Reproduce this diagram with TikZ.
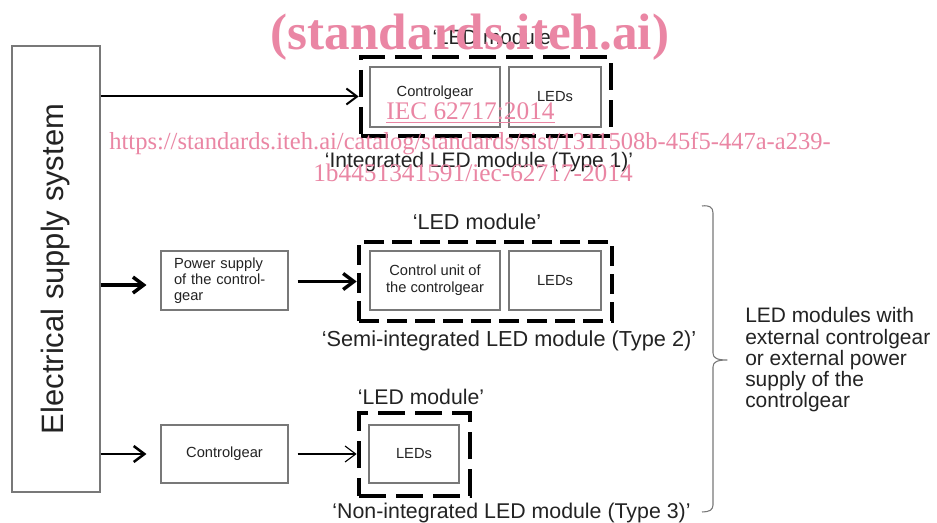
\documentclass[tikz,border=0pt]{standalone}
\usepackage{fontspec}
\setmainfont{Liberation Sans}
\newfontfamily\wmfont{Liberation Serif}
\usetikzlibrary{arrows.meta}
\definecolor{wmpink}{RGB}{234,134,164}
\definecolor{txt}{RGB}{35,35,35}
\definecolor{boxgray}{RGB}{120,120,120}
\begin{document}
\begin{tikzpicture}[x=0.75pt,y=-0.75pt,
  gbox/.style={draw=boxgray, line width=0.8pt, inner sep=0pt, text=txt, font=\fontsize{11}{12.75}\selectfont, align=center},
  dbox/.style={draw=black, line width=3.4pt, inner sep=0pt},
  lbl/.style={anchor=base, inner sep=0pt, text=txt},
  wm/.style={anchor=base, inner sep=0pt, text=wmpink},
  arr/.style={-{Straight Barb[length=8pt,width=12pt]}, draw=black}
]
\useasboundingbox[fill=white] (0,0) rectangle (937,523);

% supply system
\node[draw=boxgray, line width=0.9pt, rotate=90, minimum width=334.5pt, minimum height=66pt, inner sep=0pt, text=txt, font=\fontsize{23.2}{26}\selectfont] (supply) at (56,269) {Electrical supply system};

% Type 1
\node[dbox, minimum width=187.5pt, minimum height=59.25pt, dash pattern=on 20.25pt off 7.5pt] (m1) at (486,96.5) {};
\node[gbox, minimum width=97.5pt, minimum height=45pt, text height=8pt, text depth=8pt] (cg1) at (435,97) {Controlgear};
\node[gbox, minimum width=69pt, minimum height=45pt] (led1) at (555,97) {LEDs};
\node[lbl, font=\fontsize{15.5}{18}\selectfont] (lm1) at (494,45) {‘LED module’};
\node[lbl, font=\fontsize{15.75}{18}\selectfont] (t1) at (479,168) {‘Integrated LED module (Type 1)’};
\draw[arr, line width=1.5pt] (supply.south |- m1.west) -- (m1.west);

% Type 2
\node[dbox, minimum width=189.75pt, minimum height=59.25pt, dash pattern=on 15pt off 6pt] (m2) at (485.5,281.5) {};
\node[gbox, minimum width=95.25pt, minimum height=44.25pt, text width=75.75pt, align=left, font=\fontsize{11}{12}\selectfont] (ps) at (224.5,280.5) {Power supply\\of the control-\\gear};
\node[gbox, minimum width=97.5pt, minimum height=44.25pt] (cu) at (435,280.5) {Control unit of\\the controlgear};
\node[gbox, minimum width=69pt, minimum height=44.25pt] (led2) at (555,280.5) {LEDs};
\node[lbl, font=\fontsize{16.2}{18}\selectfont] (lm2) at (477,230) {‘LED module’};
\node[lbl, font=\fontsize{16.3}{18}\selectfont] (t2) at (509,347) {‘Semi-integrated LED module (Type 2)’};
\coordinate (a2) at ([yshift=-3.4pt]ps.west);
\draw[arr, line width=2.6pt, shorten >=10.5pt] (supply.south |- a2) -- (a2);
\draw[arr, line width=2.6pt, shorten <=6.75pt] (ps.east |- m2.west) -- (m2.west);

% Type 3
\node[dbox, minimum width=83.25pt, minimum height=62.25pt, line width=3.6pt, dash pattern=on 20.25pt off 7.5pt] (m3) at (414.5,454.5) {};
\node[gbox, minimum width=95.25pt, minimum height=43.5pt] (cg3) at (224.5,454) {Controlgear};
\node[gbox, minimum width=67.5pt, minimum height=43.5pt] (led3) at (414,454) {LEDs};
\node[lbl, font=\fontsize{15.9}{18}\selectfont] (lm3) at (421,404) {‘LED module’};
\node[lbl, font=\fontsize{16}{18}\selectfont] (t3) at (511.5,518) {‘Non-integrated LED module (Type 3)’};
\draw[arr, line width=1.9pt, shorten >=10.5pt] (supply.south |- cg3.west) -- (cg3.west);
\draw[arr, line width=0.8pt, shorten <=6.75pt] (cg3.east) -- (m3.west |- cg3.east);

% brace and description
\draw[draw=boxgray, line width=0.8pt, line join=round]
  (702,206) .. controls (709,205) and (713,207) .. (713,213) -- (713,353)
  .. controls (713,358) and (717,360) .. (727,360)
  .. controls (717,360) and (713,362) .. (713,367) -- (713,505)
  .. controls (713,510) and (709,512) .. (702,512);
\node[anchor=west, inner sep=0pt, align=left, text=txt, font=\fontsize{15.7}{15.94}\selectfont] (desc) at (745,360) {LED modules with\\external controlgear\\or external power\\supply of the\\controlgear};

% watermark
\node[wm, font=\wmfont\bfseries\fontsize{38.4}{40}\selectfont] (wm1) at (470,50) {(standards.iteh.ai)};
\node[wm, font=\wmfont\fontsize{19}{20}\selectfont] (wm2) at (470.5,120) {\underline{IEC 62717:2014}};
\node[wm, font=\wmfont\fontsize{18.4}{20}\selectfont] (wm3) at (470,150) {https://standards.iteh.ai/catalog/standards/sist/1311508b-45f5-447a-a239-};
\node[wm, font=\wmfont\fontsize{19}{20}\selectfont] (wm4) at (473,182) {1b4451341591/iec-62717-2014};
\end{tikzpicture}
\end{document}
